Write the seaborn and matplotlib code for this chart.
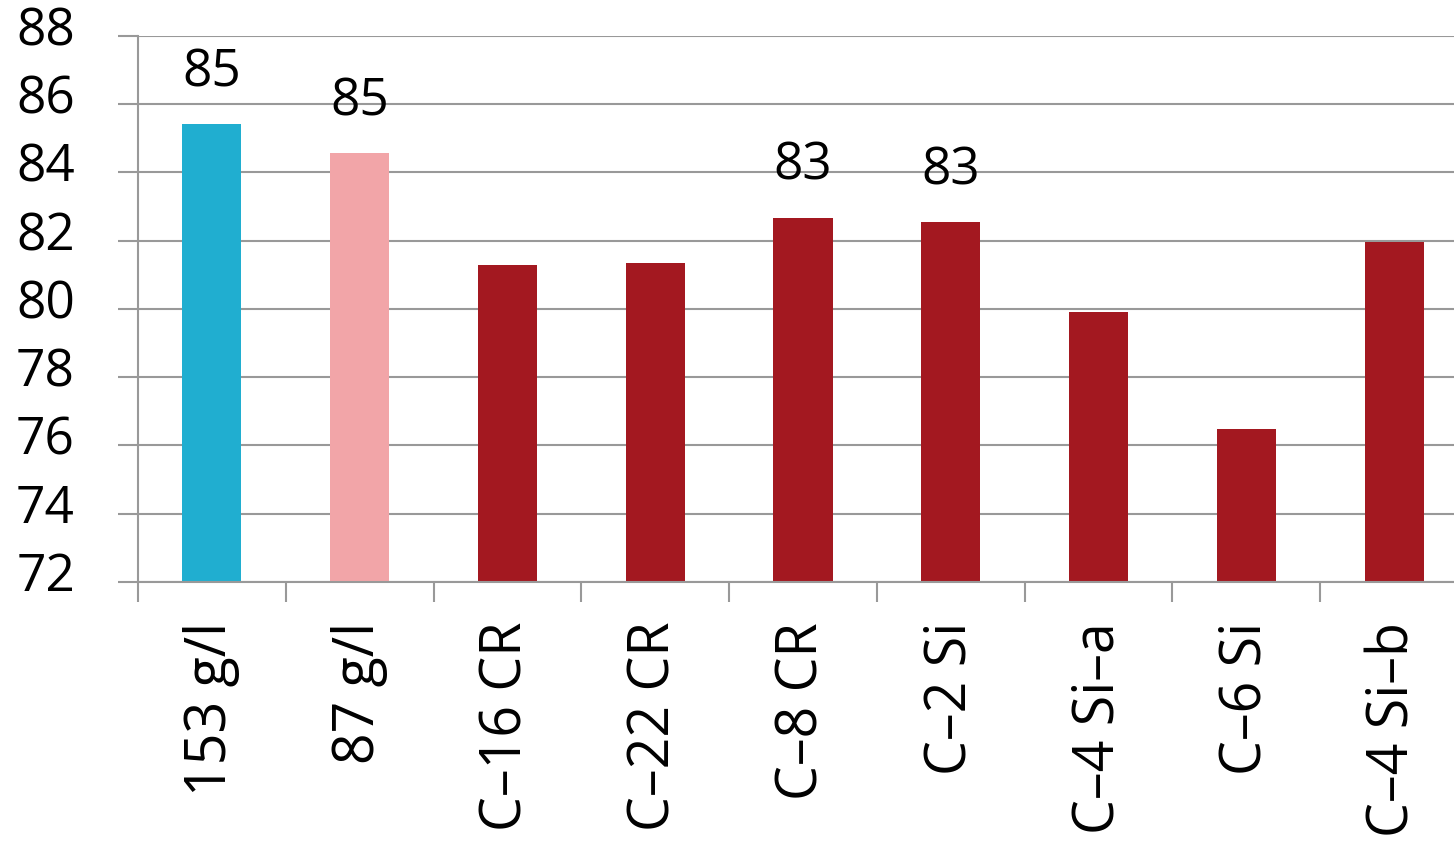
import pandas as pd
import numpy as np
import matplotlib
matplotlib.use("Agg")
import matplotlib.pyplot as plt
import matplotlib.transforms as mtransforms
import seaborn as sns

# Data
categories = ["153 g/l", "87 g/l", "C–16 CR", "C–22 CR", "C–8 CR",
              "C–2 Si", "C–4 Si–a", "C–6 Si", "C–4 Si–b"]
values = [85.42, 84.57, 81.29, 81.35, 82.67, 82.55, 79.91, 76.48, 81.96]
show_label = [True, True, False, False, True, True, False, False, False]
colors = ["#20AED0", "#F2A5A8", "#A31820", "#A31820", "#A31820",
          "#A31820", "#A31820", "#A31820", "#A31820"]
y_ticks = [72, 74, 76, 78, 80, 82, 84, 86, 88]

df = pd.DataFrame({"category": categories, "value": values})

sns.set_style("white")
plt.rcParams['font.family'] = ['Open Sans', 'DejaVu Sans']
plt.rcParams['text.color'] = 'black'
plt.rcParams['xtick.color'] = 'black'
plt.rcParams['ytick.color'] = 'black'

fig = plt.figure(figsize=(14.54, 8.62), dpi=100)
ax = fig.add_axes([0.0949, 0.3237, 0.9147, 0.6334])

sns.barplot(data=df, x="category", y="value", hue="category",
            palette=colors, saturation=1, dodge=False, width=0.4,
            legend=False, edgecolor="none", ax=ax)

ax.set_ylim(72, 88)
ax.set_xlim(-0.5, len(categories) - 0.5)
ax.set_yticks(y_ticks)
ax.set_yticklabels([str(t) for t in y_ticks], fontsize=37)

# value labels over selected bars
for i, (v, s) in enumerate(zip(values, show_label)):
    if s:
        ax.annotate(f"{round(v)}", xy=(i, v), xytext=(0, 28),
                    textcoords="offset points", ha="center", va="baseline",
                    fontsize=37, color="black")

# grid and spines
grid_color = "#999999"
ax.yaxis.grid(True, color=grid_color, linewidth=1.5)
ax.set_axisbelow(True)
for side in ["top", "right"]:
    ax.spines[side].set_visible(False)
for side in ["left", "bottom"]:
    ax.spines[side].set_color(grid_color)
    ax.spines[side].set_linewidth(1.5)

# ticks: y ticks outward, x ticks only between categories
ax.tick_params(axis="y", left=True, length=14.4, width=1.5, color=grid_color,
               pad=31, direction="out", labelcolor="black")
ax.set_xticks(range(len(categories)))
ax.set_xticklabels(categories, rotation=90, fontsize=40, va="top")
ax.tick_params(axis="x", which="major", length=0, pad=28, labelcolor="black")
ax.set_xticks(np.arange(-0.5, len(categories), 1), minor=True)
ax.tick_params(axis="x", which="minor", bottom=True, length=14.4, width=1.5,
               color=grid_color, direction="out")

# nudge y tick labels up a little
shift = mtransforms.ScaledTranslation(0, 8 / 72, fig.dpi_scale_trans)
for lbl in ax.get_yticklabels():
    lbl.set_transform(lbl.get_transform() + shift)

ax.set_xlabel("")
ax.set_ylabel("")

fig.savefig("out.png", dpi=100)
